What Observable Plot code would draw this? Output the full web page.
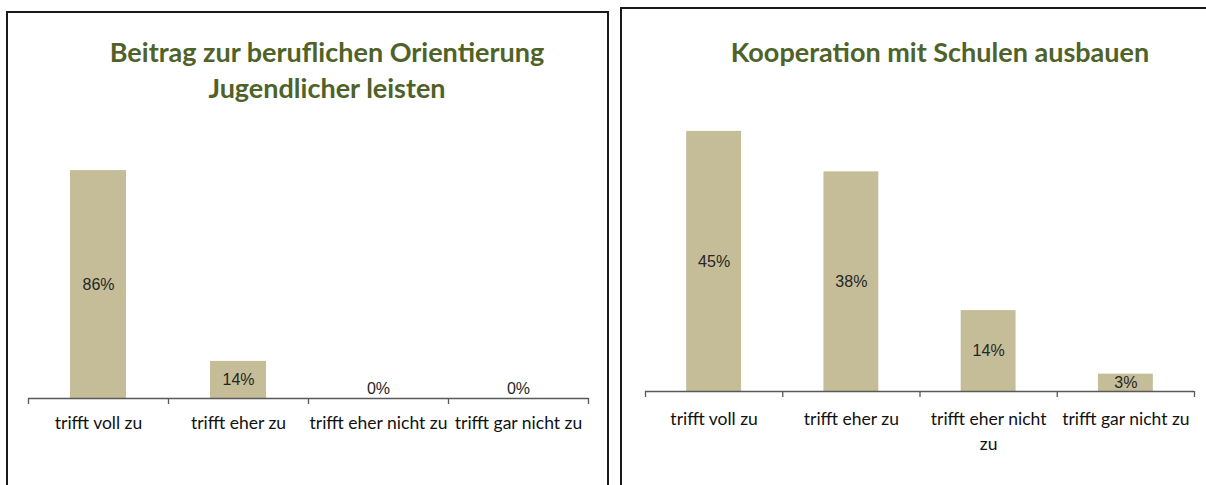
<!DOCTYPE html>
<html><head><meta charset="utf-8">
<script src="https://cdn.jsdelivr.net/npm/d3@7"></script>
<script src="https://cdn.jsdelivr.net/npm/@observablehq/plot@0.6"></script>
<style>
body{margin:0;background:#fff;width:1206px;height:485px;overflow:hidden;position:relative;font-family:Lato,sans-serif}
.box{position:absolute;border:2px solid #1a1a1a;box-sizing:border-box}
.title{position:absolute;color:#4F6228;font-family:Lato,sans-serif;font-weight:bold;font-size:27px;line-height:36px;text-align:center;white-space:nowrap;transform:translateX(-50%)}
.chart{position:absolute}
.chart svg{overflow:visible}
</style></head><body>
<div class="box" style="left:6px;top:11px;width:603px;height:500px"></div>
<div class="box" style="left:620px;top:7px;width:620px;height:500px"></div>
<div id="t1" class="title" style="left:327px;top:34px"></div>
<div id="t2" class="title" style="left:940px;top:34px"></div>
<div id="c1" class="chart" style="left:6px;top:100px"></div>
<div id="c2" class="chart" style="left:621px;top:90px"></div>
<script>
const titleLeft = ["Beitrag zur beruflichen Orientierung", "Jugendlicher leisten"];
const titleRight = ["Kooperation mit Schulen ausbauen"];
const categories = ["trifft voll zu", "trifft eher zu", "trifft eher nicht zu", "trifft gar nicht zu"];
const tickLabelsLeft = ["trifft voll zu", "trifft eher zu", "trifft eher nicht zu", "trifft gar nicht zu"];
const tickLabelsRight = ["trifft voll zu", "trifft eher zu", "trifft eher nicht\nzu", "trifft gar nicht zu"];
const valuesLeft = [86, 14, 0, 0];
const valuesRight = [45, 38, 14, 3];

document.getElementById("t1").innerHTML = titleLeft.join("<br>");
document.getElementById("t2").innerHTML = titleRight.join("<br>");

function chart({values, labels, yMax, width, height, ml, mr, mt, mb, labelDy}) {
  const n = categories.length;
  const data = categories.map((c, i) => ({i, cat: c, v: values[i], label: labels[i]}));
  return Plot.plot({
    width, height,
    marginLeft: ml, marginRight: mr, marginTop: mt, marginBottom: mb,
    x: {type: "linear", domain: [0, n]},
    y: {domain: [0, yMax], axis: null},
    style: {background: "transparent", overflow: "visible"},
    marks: [
      Plot.rectY(data, {x1: d => d.i + 0.3, x2: d => d.i + 0.7, y1: 0, y2: "v", fill: "#C4BD97"}),
      Plot.ruleY([0], {stroke: "#595959", strokeWidth: 1.3}),
      Plot.axisX({ticks: d3.range(n + 1), tickSize: 6, tickFormat: () => "", stroke: "#595959", strokeWidth: 1.3, label: null}),
      Plot.text(data, {filter: d => d.v > 0, x: d => d.i + 0.5, y: d => d.v / 2, text: d => d.v + "%",
        fontSize: 16, fontFamily: "Liberation Sans, Arial, sans-serif", fill: "#262626"}),
      Plot.text(data, {filter: d => d.v === 0, x: d => d.i + 0.5, y: 0, dy: -10, text: d => d.v + "%",
        fontSize: 16, fontFamily: "Liberation Sans, Arial, sans-serif", fill: "#262626"}),
      Plot.text(data, {x: d => d.i + 0.5, y: 0, text: "label", lineAnchor: "top", dy: labelDy, lineHeight: 1.43,
        fontSize: 17.5, fontFamily: "Lato, sans-serif", fill: "#111"})
    ]
  });
}

document.getElementById("c1").append(chart({values: valuesLeft, labels: tickLabelsLeft, yMax: 100,
  width: 602, height: 385, ml: 22, mr: 20, mt: 33, mb: 87, labelDy: 13}));
document.getElementById("c2").append(chart({values: valuesRight, labels: tickLabelsRight, yMax: 50,
  width: 585, height: 395, ml: 24, mr: 12, mt: 12, mb: 94, labelDy: 16}));
</script>
</body></html>
